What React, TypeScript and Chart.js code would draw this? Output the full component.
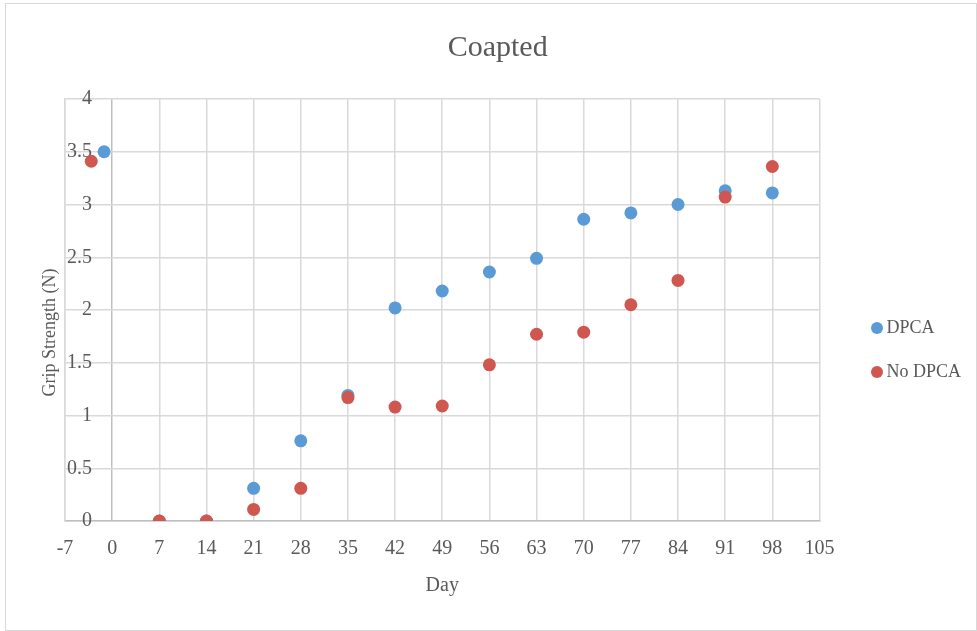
import React, { useEffect, useRef } from "react";
import { Chart, registerables } from "chart.js";

Chart.register(...registerables);

const chartTitle = "Coapted";
const xTitle = "Day";
const yTitle = "Grip Strength (N)";
const seriesNames = ["DPCA", "No DPCA"];

const dpcaDays = [-1.2, 7, 14, 21, 28, 35, 42, 49, 56, 63, 70, 77, 84, 91, 98];
const dpcaValues = [3.5, 0, 0, 0.31, 0.76, 1.19, 2.02, 2.18, 2.36, 2.49, 2.86, 2.92, 3.0, 3.13, 3.11];

const noDpcaDays = [-3.1, 7, 14, 21, 28, 35, 42, 49, 56, 63, 70, 77, 84, 91, 98];
const noDpcaValues = [3.41, 0, 0, 0.11, 0.31, 1.17, 1.08, 1.09, 1.48, 1.77, 1.79, 2.05, 2.28, 3.07, 3.36];

const xMin = -7;
const xMax = 105;
const xStep = 7;
const yMin = 0;
const yMax = 4;
const yStep = 0.5;

const FONT = "'Liberation Serif', 'DejaVu Serif', serif";
const TEXT = "#595959";
const GRID = "#d9d9d9";
const AXIS = "#bfbfbf";
const BLUE = "#5B9BD5";
const RED = "#D0574F";

export default function App() {
  const canvasRef = useRef<HTMLCanvasElement | null>(null);

  useEffect(() => {
    document.body.style.margin = "0";
    const canvas = canvasRef.current;
    if (!canvas) return;
    const chart = new Chart(canvas, {
      type: "scatter",
      data: {
        datasets: [
          {
            label: seriesNames[0],
            data: dpcaDays.map((d, i) => ({ x: d, y: dpcaValues[i] })),
            backgroundColor: BLUE,
            borderColor: BLUE,
            borderWidth: 0,
            pointRadius: 6.5,
            order: 1,
          },
          {
            label: seriesNames[1],
            data: noDpcaDays.map((d, i) => ({ x: d, y: noDpcaValues[i] })),
            backgroundColor: RED,
            borderColor: RED,
            borderWidth: 0,
            pointRadius: 6.5,
            order: 0,
          },
        ],
      },
      options: {
        responsive: false,
        animation: false,
        devicePixelRatio: 1,
        layout: { padding: { left: 39.4, right: 6, top: 20, bottom: 20 } },
        plugins: {
          tooltip: { enabled: false },
          title: {
            display: true,
            text: chartTitle + "  ",
            color: TEXT,
            font: { family: FONT, size: 30, weight: "normal" },
            padding: { top: 10, bottom: 33 },
          },
          legend: {
            position: "right",
            align: "center",
            title: { display: true, text: "", font: { size: 12 }, padding: { top: 54.6, bottom: 0 } },
            labels: {
              usePointStyle: true,
              pointStyle: "circle",
              boxWidth: 1,
              boxHeight: 8.5,
              padding: 26,
              color: TEXT,
              font: { family: FONT, size: 18 },
              sort: (a: any, b: any) => a.datasetIndex - b.datasetIndex,
            },
          },
        },
        scales: {
          x: {
            type: "linear",
            min: xMin,
            max: xMax,
            afterBuildTicks: (scale: any) => {
              const t = [];
              for (let v = xMin; v <= xMax; v += xStep) t.push({ value: v });
              scale.ticks = t;
            },
            ticks: {
              color: TEXT,
              font: { family: FONT, size: 20 },
              padding: 0,
              maxRotation: 0,
              autoSkip: false,
            },
            grid: {
              color: (ctx: any) => (ctx.tick && ctx.tick.value === 0 ? AXIS : GRID),
              lineWidth: 1.5,
              drawTicks: true,
              tickLength: 16,
              tickColor: "rgba(0,0,0,0)",
            },
            border: { display: true, color: AXIS, width: 1.5 },
            title: {
              display: true,
              text: xTitle,
              color: TEXT,
              font: { family: FONT, size: 20 },
              padding: { top: 13, bottom: 13 },
            },
          },
          y: {
            type: "linear",
            min: yMin,
            max: yMax,
            ticks: {
              stepSize: yStep,
              color: TEXT,
              font: { family: FONT, size: 20 },
              mirror: true,
              crossAlign: "far",
              padding: 2,
              callback: (v: any) => String(Number(v)),
            },
            grid: {
              color: GRID,
              lineWidth: 1.5,
              drawTicks: false,
            },
            border: { display: true, color: GRID, width: 1.5 },
            title: {
              display: true,
              text: yTitle + "          ",
              color: TEXT,
              font: { family: FONT, size: 18 },
              padding: { top: 0, bottom: 0 },
            },
          },
          gap: {
            type: "linear",
            position: "right",
            display: true,
            grid: { display: false, drawOnChartArea: false, drawTicks: false },
            border: { display: false },
            ticks: { display: false },
            title: { display: false },
            afterFit: (scale: any) => {
              scale.width = 31;
            },
          },
        },
      },
    });
    return () => chart.destroy();
  }, []);

  return (
    <div style={{ position: "relative", width: 977, height: 631, overflow: "hidden", background: "#fff" }}>
      <div
        style={{
          position: "absolute",
          left: 5,
          top: 3,
          width: 972,
          height: 628,
          boxSizing: "border-box",
          border: "1px solid #d9d9d9",
        }}
      />
      <canvas ref={canvasRef} width={977} height={631} style={{ position: "absolute", left: 0, top: 0 }} />
    </div>
  );
}
